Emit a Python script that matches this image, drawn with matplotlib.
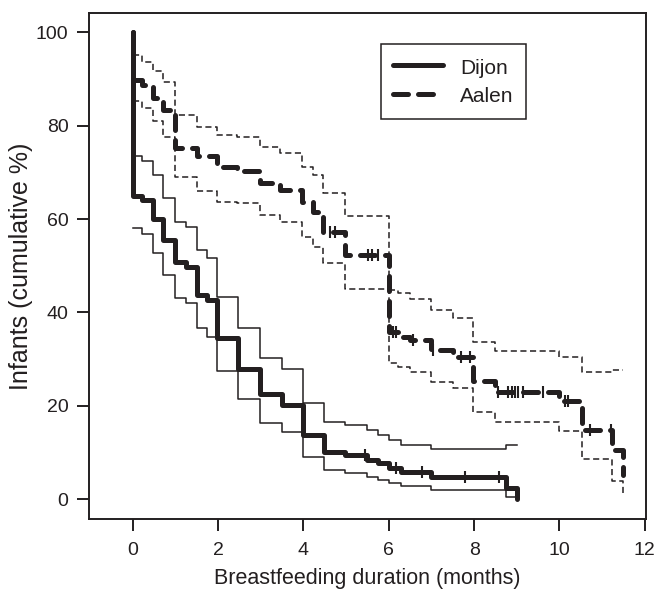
import numpy as np
import matplotlib
matplotlib.use('Agg')
import matplotlib.pyplot as plt

plt.rcParams['font.family'] = ['Liberation Sans', 'DejaVu Sans']

INK = '#231f20'

# Dijon: event times (months), survival %, 95% CI
dijon_times = [0, 0.22, 0.48, 0.72, 0.99, 1.24, 1.5, 1.75, 1.97, 2.47, 2.98, 3.49,
               3.98, 4.49, 4.97, 5.5, 5.75, 6.0, 6.28, 6.98, 8.74, 9.0]
dijon_surv = [65.0, 64.0, 60.0, 55.5, 50.9, 49.8, 43.7, 42.7, 34.5, 28.0, 22.5, 20.2,
              13.8, 10.2, 9.5, 8.4, 7.7, 6.6, 5.9, 4.7, 2.4, 0.0]
dijon_upper = [73.4, 72.5, 69.4, 64.5, 59.4, 58.4, 53.4, 51.6, 43.4, 36.7, 30.3, 27.9,
               20.7, 16.6, 15.9, 14.8, 13.8, 12.7, 11.6, 10.7, 11.6, 11.6]
dijon_lower = [58.0, 56.7, 52.7, 48.0, 43.0, 42.0, 36.6, 34.8, 27.5, 21.5, 16.3, 14.5,
               9.1, 6.2, 5.6, 4.8, 4.1, 3.5, 2.85, 2.0, 0.55, 0.55]
dijon_censor = [5.44, 6.18, 6.79, 7.78, 8.59]

# Aalen
aalen_times = [0, 0.21, 0.48, 0.72, 0.99, 1.5, 1.97, 2.44, 2.98, 3.45, 3.96, 4.23,
               4.46, 4.97, 6.0, 6.22, 6.49, 7.0, 7.5, 7.98, 8.49, 10.0, 10.52,
               11.24, 11.49]
aalen_surv = [89.8, 88.7, 85.9, 83.4, 75.2, 73.4, 71.2, 70.2, 67.7, 66.2, 63.7, 61.6,
              57.3, 52.3, 35.9, 34.8, 34.1, 32.0, 30.5, 25.3, 23.0, 21.0, 14.8,
              10.6, 5.2]
aalen_upper = [95.1, 93.7, 91.6, 89.4, 82.3, 79.8, 77.9, 77.5, 75.5, 74.1, 71.2, 69.4,
               65.5, 60.7, 44.8, 44.1, 42.8, 40.5, 38.8, 33.7, 31.8, 30.4, 27.3,
               27.7, 27.7]
aalen_lower = [85.3, 83.7, 80.9, 77.6, 69.1, 65.9, 63.7, 63.4, 60.9, 59.4, 56.2, 54.1,
               50.5, 45.0, 29.1, 28.4, 27.3, 25.2, 23.8, 18.8, 16.6, 14.7, 8.6,
               4.0, 1.3]
aalen_censor = [4.62, 4.74, 5.52, 5.6, 5.75, 6.1, 6.16, 6.57, 7.04, 7.7, 7.9,
                8.56, 8.8, 8.88, 8.95, 9.03, 9.15, 9.62, 10.12, 10.2, 10.71, 11.2]


def surv_at(times, surv, t):
    # value of the step curve just at t (right continuous)
    idx = np.searchsorted(times, t, side='right') - 1
    return np.array(surv)[idx]


fig = plt.figure(figsize=(6.59, 5.91), dpi=100)
ax = fig.add_axes([0.1346, 0.1223, 0.8452, 0.8557])

thick = 3.6
dash_thick = (0, (3.0, 2.0))
dash_thin = (0, (4.0, 2.3))

# Dijon
ax.step([0] + dijon_times, [100] + dijon_surv, where='post', color=INK, lw=thick,
        solid_capstyle='round', solid_joinstyle='round', label='Dijon')
ax.step(dijon_times, dijon_upper, where='post', color=INK, lw=1.1)
ax.step(dijon_times, dijon_lower, where='post', color=INK, lw=1.1)
ax.plot(dijon_censor, surv_at(dijon_times, dijon_surv, dijon_censor), ls='none',
        marker='|', ms=9, mew=1.5, color=INK)

# Aalen
ax.step([0] + aalen_times, [100] + aalen_surv, where='post', color=INK, lw=thick,
        ls=dash_thick, dash_capstyle='round', label='Aalen')
ax.step(aalen_times, aalen_upper, where='post', color=INK, lw=1.1, ls=dash_thin)
ax.step(aalen_times, aalen_lower, where='post', color=INK, lw=1.1, ls=dash_thin)
ax.plot(aalen_censor, surv_at(aalen_times, aalen_surv, aalen_censor), ls='none',
        marker='|', ms=9, mew=1.5, color=INK)

ax.set_xlim(-1.03, 12.02)
ax.set_ylim(-4.15, 104.1)
ax.set_xticks([0, 2, 4, 6, 8, 10, 12])
ax.set_yticks([0, 20, 40, 60, 80, 100])
ax.tick_params(direction='out', length=8.6, width=1.4, colors=INK, labelsize=14)
ax.tick_params(axis='x', pad=8)
ax.tick_params(axis='y', pad=6)
for s in ax.spines.values():
    s.set_linewidth(1.4)
    s.set_color(INK)

ax.set_xlabel('Breastfeeding duration (months)', fontsize=15.5, color=INK, labelpad=7)
ax.set_ylabel('Infants (cumulative %)', fontsize=18, color=INK, labelpad=2)

leg = ax.legend(loc='upper left', bbox_to_anchor=(0.524, 0.9387), fontsize=15,
                fancybox=False, framealpha=1, edgecolor=INK, handlelength=2.4,
                handleheight=1.2, handletextpad=0.82, borderpad=0.6,
                labelspacing=0.31, borderaxespad=0)
leg.get_frame().set_linewidth(1.1)
for t in leg.get_texts():
    t.set_color(INK)

fig.savefig('out.png', dpi=100)
